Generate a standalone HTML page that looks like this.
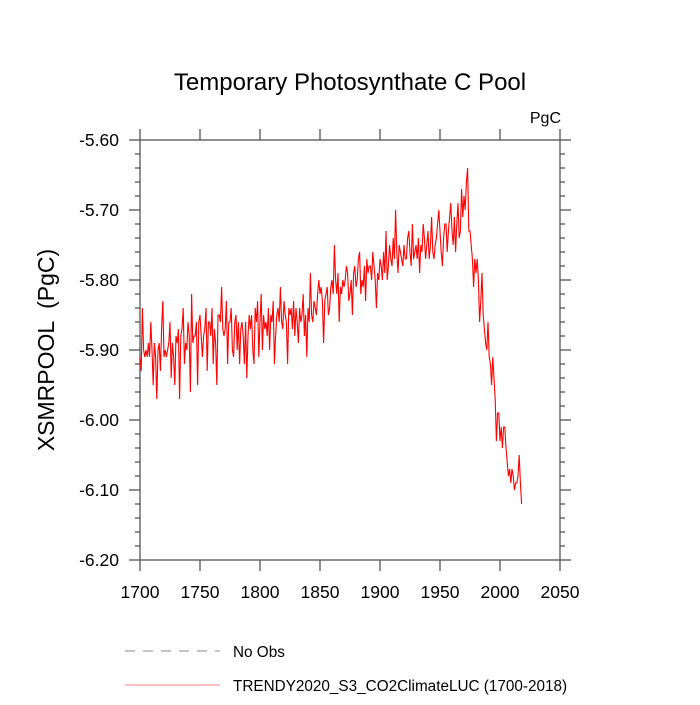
<!DOCTYPE html>
<html><head><meta charset="utf-8"><style>body{margin:0;background:#fff}svg{font-family:"Liberation Sans",sans-serif}</style></head>
<body>
<svg id="chart" width="700" height="700" xmlns="http://www.w3.org/2000/svg">
<text x="350" y="90" font-size="24" text-anchor="middle">Temporary Photosynthate C Pool</text>
<text x="561" y="123" font-size="16" text-anchor="end">PgC</text>
<text transform="translate(54,350) rotate(-90)" font-size="23" text-anchor="middle" xml:space="preserve" style="white-space:pre">XSMRPOOL  (PgC)</text>
<g id="axes"></g>
<polyline id="series" fill="none" stroke="#ff0000" stroke-width="1.1"/>
<line x1="125" y1="651" x2="220" y2="651" stroke="#888" stroke-width="1" stroke-dasharray="10,8"/>
<text x="233" y="657" font-size="15.3">No Obs</text>
<line x1="125" y1="685" x2="220" y2="685" stroke="#ff0000" stroke-width="0.6"/>
<text x="233" y="691" font-size="15.3">TRENDY2020_S3_CO2ClimateLUC (1700-2018)</text>
</svg>
<script>
const startYear = 1700;
const values = [
-5.91,-5.93,-5.84,-5.90,-5.91,-5.90,-5.91,-5.89,-5.91,-5.86,
-5.90,-5.95,-5.89,-5.91,-5.97,-5.90,-5.89,-5.93,-5.87,-5.83,
-5.91,-5.90,-5.91,-5.90,-5.89,-5.86,-5.94,-5.89,-5.91,-5.95,
-5.88,-5.89,-5.87,-5.97,-5.88,-5.87,-5.84,-5.92,-5.89,-5.90,
-5.86,-5.88,-5.96,-5.82,-5.89,-5.88,-5.88,-5.86,-5.95,-5.86,
-5.85,-5.88,-5.91,-5.88,-5.87,-5.84,-5.93,-5.86,-5.86,-5.88,
-5.84,-5.92,-5.87,-5.89,-5.95,-5.85,-5.85,-5.86,-5.81,-5.87,
-5.88,-5.87,-5.83,-5.92,-5.86,-5.86,-5.84,-5.90,-5.91,-5.86,
-5.85,-5.90,-5.86,-5.92,-5.87,-5.86,-5.88,-5.92,-5.86,-5.94,
-5.88,-5.85,-5.87,-5.85,-5.90,-5.92,-5.84,-5.86,-5.83,-5.91,
-5.86,-5.82,-5.90,-5.85,-5.87,-5.86,-5.88,-5.84,-5.90,-5.85,
-5.86,-5.83,-5.92,-5.88,-5.85,-5.84,-5.86,-5.81,-5.86,-5.87,
-5.83,-5.85,-5.86,-5.92,-5.84,-5.85,-5.84,-5.87,-5.83,-5.88,
-5.84,-5.86,-5.89,-5.84,-5.86,-5.85,-5.82,-5.88,-5.85,-5.91,
-5.84,-5.86,-5.79,-5.85,-5.86,-5.83,-5.84,-5.85,-5.82,-5.80,
-5.82,-5.81,-5.83,-5.89,-5.83,-5.82,-5.81,-5.85,-5.84,-5.81,
-5.80,-5.82,-5.75,-5.80,-5.82,-5.79,-5.86,-5.81,-5.82,-5.80,
-5.81,-5.80,-5.78,-5.79,-5.83,-5.82,-5.80,-5.85,-5.79,-5.78,
-5.81,-5.80,-5.77,-5.76,-5.82,-5.80,-5.81,-5.78,-5.83,-5.77,
-5.79,-5.78,-5.78,-5.80,-5.76,-5.78,-5.80,-5.84,-5.79,-5.80,
-5.77,-5.78,-5.80,-5.76,-5.79,-5.73,-5.80,-5.78,-5.75,-5.77,
-5.78,-5.74,-5.77,-5.70,-5.76,-5.79,-5.75,-5.76,-5.77,-5.78,
-5.75,-5.77,-5.77,-5.74,-5.73,-5.76,-5.78,-5.72,-5.77,-5.76,
-5.75,-5.77,-5.74,-5.79,-5.75,-5.76,-5.72,-5.74,-5.77,-5.75,
-5.73,-5.77,-5.75,-5.71,-5.76,-5.77,-5.75,-5.74,-5.72,-5.70,
-5.73,-5.76,-5.78,-5.74,-5.72,-5.72,-5.76,-5.73,-5.71,-5.69,
-5.73,-5.75,-5.71,-5.76,-5.72,-5.69,-5.74,-5.73,-5.67,-5.71,
-5.68,-5.70,-5.66,-5.64,-5.73,-5.73,-5.75,-5.77,-5.81,-5.77,
-5.79,-5.77,-5.80,-5.86,-5.83,-5.79,-5.85,-5.87,-5.89,-5.90,
-5.86,-5.91,-5.92,-5.95,-5.91,-5.94,-5.97,-6.03,-5.99,-5.99,
-6.03,-6.01,-6.04,-6.01,-6.01,-6.04,-6.06,-6.08,-6.07,-6.09,
-6.07,-6.08,-6.10,-6.09,-6.09,-6.08,-6.05,-6.09,-6.12
];
const xTicks = [1700,1750,1800,1850,1900,1950,2000,2050];
const yTicks = [-5.6,-5.7,-5.8,-5.9,-6.0,-6.1,-6.2];
const yTickLabels = ["-5.60","-5.70","-5.80","-5.90","-6.00","-6.10","-6.20"];

const L=140,R=560,T=140,B=560;
const xS=v=>L+(v-1700)/(2050-1700)*(R-L);
const yS=v=>T+(-5.6-v)/(0.6)*(B-T);
const NS="http://www.w3.org/2000/svg";
const ax=document.getElementById('axes');
function ln(x1,y1,x2,y2,name){const l=document.createElementNS(NS,'line');l.setAttribute('x1',x1);l.setAttribute('y1',y1);l.setAttribute('x2',x2);l.setAttribute('y2',y2);l.setAttribute('stroke','#555');l.setAttribute('stroke-width','1.3');


ax.appendChild(l);}
function tx(x,y,s,anchor,name){const t=document.createElementNS(NS,'text');t.setAttribute('x',x);t.setAttribute('y',y);t.setAttribute('font-size','17.5');t.setAttribute('text-anchor',anchor);t.textContent=s;


ax.appendChild(t);}
const fr=document.createElementNS(NS,'rect');fr.setAttribute('x',L);fr.setAttribute('y',T);fr.setAttribute('width',R-L);fr.setAttribute('height',B-T);fr.setAttribute('fill','none');fr.setAttribute('stroke','#555');fr.setAttribute('stroke-width','1.3');


ax.appendChild(fr);
xTicks.forEach(v=>{const x=xS(v);ln(x,B,x,B+11,'x-tick');ln(x,T,x,T-11,'x-tick-top');tx(x,598,String(v),'middle','x-tick-label');});
yTicks.forEach((v,i)=>{const y=yS(v);ln(L,y,L-11,y,'y-tick');ln(R,y,R+11,y,'y-tick-right');tx(L-21,y+6,yTickLabels[i],'end','y-tick-label');});
for(let k=0;k<=30;k++){const v=-5.6-k*0.02;if(k%5===0)continue;const y=yS(v);ln(L,y,L-5,y,'y-minor-tick');ln(R,y,R+5,y,'y-minor-tick-right');}
document.getElementById('series').setAttribute('points',values.map((v,i)=>xS(startYear+i).toFixed(2)+','+yS(v).toFixed(2)).join(' '));
</script>
</body></html>
